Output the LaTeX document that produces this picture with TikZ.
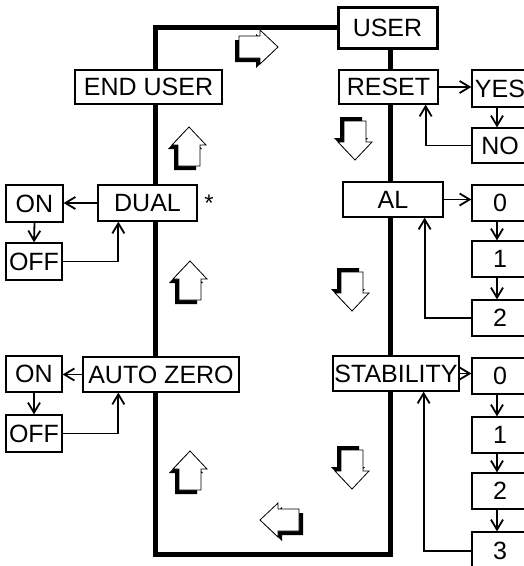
\documentclass[tikz,border=0pt]{standalone}
\usepackage{fontspec}
\setmainfont{Liberation Sans}
\usetikzlibrary{arrows.meta,backgrounds}

\tikzset{
    menubox/.style={draw, fill=white, line width=1.3pt, inner sep=0pt, font=\fontsize{25}{29}\selectfont},
    choicebox/.style={menubox, minimum width=56pt},
    link/.style={line width=1.8pt, -{Straight Barb[length=10pt,width=12pt]}},
    mainloop/.style={line width=5pt},
    pics/hollowarrow/.style={code={
        \fill[black, shift={#1}] (0,-20) -- (17,-2) -- (11,-2) -- (11,19) -- (-11,19) -- (-11,-2) -- (-17,-2) -- cycle;
        \filldraw[fill=white, draw=black, line width=0.8pt] (0,-20) -- (17,-2) -- (11,-2) -- (11,19) -- (-11,19) -- (-11,-2) -- (-17,-2) -- cycle;
    }}
}

\begin{document}
\begin{tikzpicture}[x=1pt, y=-1pt]
    \useasboundingbox (0,0) rectangle (524,566);

    % Main menu
    \node[menubox, line width=3pt, minimum width=99pt, minimum height=41pt] (user) at (387.5,27.5) {USER};
    \node[menubox, minimum width=147pt, minimum height=34pt] (enduser) at (148.5,87) {END USER};
    \node[menubox, minimum width=99pt, minimum height=34pt] (reset) at (388.5,87) {RESET};
    \node[menubox, minimum width=99pt, minimum height=36pt] (dual) at (147.5,203) {DUAL};
    \node[font=\fontsize{24}{28}\selectfont] (star) at (209,203) {*};
    \node[menubox, minimum width=100pt, minimum height=35pt] (al) at (393,199.5) {AL};
    \node[menubox, minimum width=156pt, minimum height=35pt] (autozero) at (161,374.5) {AUTO ZERO};
    \node[menubox, minimum width=126pt, minimum height=35pt] (stability) at (396,373.5) {STABILITY};

    % Loop
    \coordinate (loopbl) at (155,554);
    \coordinate (loopbr) at (390,554);
    \begin{scope}[on background layer]
        \draw[mainloop] (user.west) -| (loopbl) -- (loopbr) -- (loopbr |- user.south);
    \end{scope}

    % Reset
    \node[choicebox, minimum height=37pt] (yes) at (500,88.5) {YES};
    \node[choicebox, minimum height=35pt] (no) at (500,145.5) {NO};
    \draw[link] (reset.east) -- (reset.east -| yes.west);
    \draw[link] ([xshift=-3pt]yes.south) -- ([xshift=-3pt]no.north);
    \draw[link] (no.west) -| ([xshift=-13pt]reset.south east);

    % Dual
    \node[menubox, minimum width=57pt, minimum height=37pt] (dualon) at (34.5,203.5) {ON};
    \node[menubox, minimum width=56pt, minimum height=37pt] (dualoff) at (34,261.5) {OFF};
    \draw[link] (dual.west) -- (dual.west -| dualon.east);
    \draw[link] (dualon.south) -- (dualoff.north);
    \draw[link] (dualoff.east) -| ([xshift=21pt]dual.south west);

    % AL
    \node[choicebox, minimum height=36pt] (al0) at (500,203) {0};
    \node[choicebox, minimum height=36pt] (al1) at (500,259) {1};
    \node[choicebox, minimum height=36pt] (al2) at (500,318) {2};
    \draw[link] (al.east) -- (al.east -| al0.west);
    \draw[link] ([xshift=-3pt]al0.south) -- ([xshift=-3pt]al1.north);
    \draw[link] ([xshift=-3pt]al1.south) -- ([xshift=-3pt]al2.north);
    \draw[link] (al2.west) -| ([xshift=-19pt]al.south east);

    % Auto zero
    \node[menubox, minimum width=56pt, minimum height=36pt] (azon) at (34,374) {ON};
    \node[menubox, minimum width=56pt, minimum height=37pt] (azoff) at (34,433.5) {OFF};
    \draw[link] (autozero.west) -- (autozero.west -| azon.east);
    \draw[link] (azon.south) -- (azoff.north);
    \draw[link] (azoff.east) -| ([xshift=36pt]autozero.south west);

    % Stability
    \node[choicebox, minimum height=36pt] (st0) at (500,376) {0};
    \node[choicebox, minimum height=36pt] (st1) at (500,435) {1};
    \node[choicebox, minimum height=36pt] (st2) at (500,491) {2};
    \node[choicebox, minimum height=38pt] (st3) at (500,551) {3};
    \draw[link] (stability.east) -- (stability.east -| st0.west);
    \draw[link] ([xshift=-3pt]st0.south) -- ([xshift=-3pt]st1.north);
    \draw[link] ([xshift=-3pt]st1.south) -- ([xshift=-3pt]st2.north);
    \draw[link] ([xshift=-3pt]st2.south) -- ([xshift=-3pt]st3.north);
    \draw[link] (st3.west) -| ([xshift=-36pt]stability.south east);

    % Direction arrows
    \pic[rotate=-90] at (258,47) {hollowarrow={(4,4)}};
    \pic at (189,147) {hollowarrow={(-4,4)}};
    \pic at (190,281) {hollowarrow={(-4,4)}};
    \pic at (190,471) {hollowarrow={(-4,4)}};
    \pic[yscale=-1] at (355,140) {hollowarrow={(-4,4)}};
    \pic[yscale=-1] at (352,291) {hollowarrow={(-4,4)}};
    \pic[yscale=-1] at (352,469) {hollowarrow={(-4,4)}};
    \pic[rotate=90] at (280,520) {hollowarrow={(-4,4)}};
\end{tikzpicture}
\end{document}
